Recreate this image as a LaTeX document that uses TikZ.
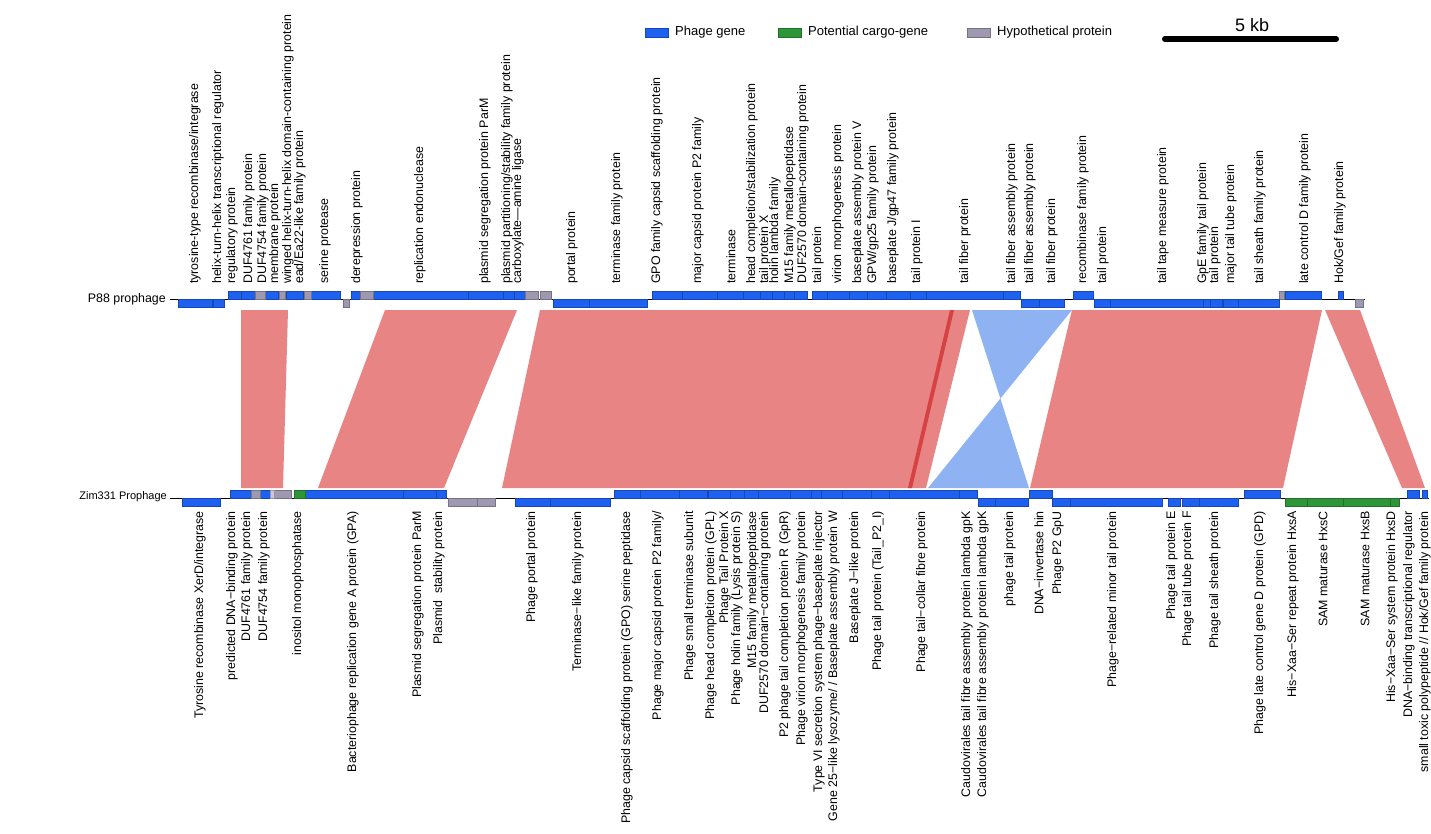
\documentclass[tikz,border=0pt]{standalone}
\usepackage{fontspec}
\setmainfont{Liberation Sans}
\definecolor{phageblue}{RGB}{30,96,240}
\definecolor{cargogreen}{RGB}{46,150,56}
\definecolor{hypogrey}{RGB}{158,152,176}
\definecolor{lavgrey}{RGB}{204,200,218}
\definecolor{ribbonred}{RGB}{232,132,132}
\definecolor{ribbonblue}{RGB}{142,178,242}
\definecolor{stripered}{RGB}{214,66,66}
\newcommand{\genefont}{\fontsize{12.4}{13}\selectfont}
\newcommand{\legendfont}{\fontsize{13}{14}\selectfont}
\begin{document}
\begin{tikzpicture}[x=1pt,y=-1pt,
  toplabel/.style={rotate=90,anchor=west,inner sep=0pt,font=\genefont},
  botlabel/.style={rotate=90,anchor=east,inner sep=0pt,font=\genefont},
  genebox/.style={fill=#1,draw=#1!75!black,line width=0.4pt}]
  \useasboundingbox[fill=white] (0,0) rectangle (1431,834);

  % legend and scale
  \draw[genebox=phageblue] (645,28) rectangle (668,37);
  \node[anchor=west,inner sep=0pt,font=\legendfont] (lgphage) at (675,32.5) {Phage gene};
  \draw[genebox=cargogreen] (778,28) rectangle (801,37);
  \node[anchor=west,inner sep=0pt,font=\legendfont] (lgcargo) at (808,32.5) {Potential cargo-gene};
  \draw[genebox=hypogrey] (967,28) rectangle (990,37);
  \node[anchor=west,inner sep=0pt,font=\legendfont] (lghypo) at (997,32.5) {Hypothetical protein};
  \draw[line width=6pt,line cap=round] (1165,39) -- (1336,39);
  \node[font=\fontsize{18}{20}\selectfont,inner sep=0pt] (scale) at (1252,25) {5 kb};

  % synteny ribbons
  \fill[ribbonred] (241,310) -- (288,310) -- (283,488) -- (241,488) -- cycle;
  \fill[ribbonred] (385,310) -- (517,310) -- (444,488) -- (318,488) -- cycle;
  \fill[ribbonred] (540,310) -- (970,310) -- (926,488) -- (502,488) -- cycle;
  \fill[stripered] (950,310) -- (954,310) -- (912,488) -- (908,488) -- cycle;
  \fill[ribbonblue] (972,310) -- (1072,310) -- (928,488) -- (1029,488) -- cycle;
  \fill[ribbonred] (1072,310) -- (1322,310) -- (1283,488) -- (1030,488) -- cycle;
  \fill[ribbonred] (1325,310) -- (1360,310) -- (1425,488) -- (1402,488) -- cycle;

  % P88 prophage
  \node[anchor=east,inner sep=0pt,font=\fontsize{12.4}{13}\selectfont] (p88) at (166,299) {P88 prophage};
  \coordinate (p88w) at (170,299);
  \coordinate (p88e) at (1365,299);
  \draw[line width=1pt] (p88w) -- (p88e);
  \foreach \a/\b in {228/241,241/255,265/278,286/303,311/340,351/360,373/468,468/503,503/514,514/525,
    652/682,682/717,717/743,743/760,760/772,772/784,784/794,794/807,812/827,827/849,849/867,867/886,
    886/910,910/926,926/1003,1003/1020,1073/1093,1285/1321,1338/1343}
    \draw[genebox=phageblue] (\a,291) rectangle (\b,299);
  \foreach \a/\b in {255/265,279/285,304/311,360/373,525/538,540/551,1279/1284}
    \draw[genebox=hypogrey] (\a,291) rectangle (\b,299);
  \foreach \a/\b in {178/212,213/224,553/589,589/647,1021/1039,1039/1064,1094/1110,1110/1203,
    1203/1210,1210/1222,1223/1238,1238/1279}
    \draw[genebox=phageblue] (\a,299) rectangle (\b,307);
  \foreach \a/\b in {343/349,1355/1363}
    \draw[genebox=hypogrey] (\a,299) rectangle (\b,307);

  % Zim331 prophage
  \node[anchor=east,inner sep=0pt,font=\fontsize{11}{12}\selectfont] (zim) at (167,497) {Zim331 Prophage};
  \coordinate (zimw) at (170,498);
  \coordinate (zime) at (1429,498);
  \draw[line width=1pt] (zimw) -- (zime);
  \foreach \a/\b in {230/251,260/270,305/403,403/436,436/446,614/640,640/679,679/707,708/730,730/744,
    744/758,758/790,790/811,811/821,821/842,842/871,871/889,889/959,959/977,1029/1052,1244/1280,
    1407/1419,1422/1427}
    \draw[genebox=phageblue] (\a,490) rectangle (\b,498);
  \foreach \a/\b in {251/260,274/291}
    \draw[genebox=hypogrey] (\a,490) rectangle (\b,498);
  \draw[genebox=lavgrey] (270,490) rectangle (274,498);
  \draw[genebox=cargogreen] (294,490) rectangle (305,498);
  \foreach \a/\b in {182/220,515/550,550/610,978/995,995/1028,1052/1070,1070/1162,1168/1180,
    1182/1199,1199/1238}
    \draw[genebox=phageblue] (\a,498) rectangle (\b,506);
  \foreach \a/\b in {448/477,477/495}
    \draw[genebox=hypogrey] (\a,498) rectangle (\b,506);
  \foreach \a/\b in {1285/1307,1307/1343,1343/1390,1390/1399}
    \draw[genebox=cargogreen] (\a,498) rectangle (\b,506);

  % P88 gene names
  \node[toplabel] (t01) at (195,284) {tyrosine-type recombinase/integrase};
  \node[toplabel] (t02) at (218,284) {helix-turn-helix transcriptional regulator};
  \node[toplabel] (t03) at (232,284) {regulatory protein};
  \node[toplabel] (t04) at (249,284) {DUF4761 family protein};
  \node[toplabel] (t05) at (263,284) {DUF4754 family protein};
  \node[toplabel] (t06) at (275,284) {membrane protein};
  \node[toplabel] (t07) at (288,284) {winged helix-turn-helix domain-containing protein};
  \node[toplabel] (t08) at (300,284) {ead/Ea22-like family protein};
  \node[toplabel] (t09) at (325,284) {serine protease};
  \node[toplabel] (t10) at (357,284) {derepression protein};
  \node[toplabel] (t11) at (420,284) {replication endonuclease};
  \node[toplabel] (t12) at (485,284) {plasmid segregation protein ParM};
  \node[toplabel] (t13) at (507,284) {plasmid partitioning/stability family protein};
  \node[toplabel] (t14) at (518,284) {carboxylate—amine ligase};
  \node[toplabel] (t15) at (572,284) {portal protein};
  \node[toplabel] (t16) at (617,284) {terminase family protein};
  \node[toplabel] (t17) at (657,284) {GPO family capsid scaffolding protein};
  \node[toplabel] (t18) at (698,284) {major capsid protein P2 family};
  \node[toplabel] (t19) at (731,284) {terminase};
  \node[toplabel] (t20) at (752,284) {head completion/stabilization protein};
  \node[toplabel] (t21) at (765,284) {tail protein X};
  \node[toplabel] (t22) at (775,284) {holin lambda family};
  \node[toplabel] (t23) at (790,284) {M15 family metallopeptidase};
  \node[toplabel] (t24) at (803,284) {DUF2570 domain-containing protein};
  \node[toplabel] (t25) at (818,284) {tail protein};
  \node[toplabel] (t26) at (838,284) {virion morphogenesis protein};
  \node[toplabel] (t27) at (858,284) {baseplate assembly protein V};
  \node[toplabel] (t28) at (873,284) {GPW/gp25 family protein};
  \node[toplabel] (t29) at (893,284) {baseplate J/gp47 family protein};
  \node[toplabel] (t30) at (917,284) {tail protein I};
  \node[toplabel] (t31) at (965,284) {tail fiber protein};
  \node[toplabel] (t32) at (1012,284) {tail fiber assembly protein};
  \node[toplabel] (t33) at (1030,284) {tail fiber assembly protein};
  \node[toplabel] (t34) at (1052,284) {tail fiber protein};
  \node[toplabel] (t35) at (1083,284) {recombinase family protein};
  \node[toplabel] (t36) at (1103,284) {tail protein};
  \node[toplabel] (t37) at (1163,284) {tail tape measure protein};
  \node[toplabel] (t38) at (1203,284) {GpE family tail protein};
  \node[toplabel] (t39) at (1215,284) {tail protein};
  \node[toplabel] (t40) at (1231,284) {major tail tube protein};
  \node[toplabel] (t41) at (1260,284) {tail sheath family protein};
  \node[toplabel] (t42) at (1305,284) {late control D family protein};
  \node[toplabel] (t43) at (1340,284) {Hok/Gef family protein};

  % Zim331 gene names
  \node[botlabel] (b01) at (200,511) {Tyrosine recombinase XerD/integrase};
  \node[botlabel] (b02) at (232,511) {predicted DNA−binding protein};
  \node[botlabel] (b03) at (247,511) {DUF4761 family protein};
  \node[botlabel] (b04) at (264,511) {DUF4754 family protein};
  \node[botlabel] (b05) at (298,511) {inositol monophosphatase};
  \node[botlabel] (b06) at (353,511) {Bacteriophage replication gene A protein (GPA)};
  \node[botlabel] (b07) at (418,511) {Plasmid segregation protein ParM};
  \node[botlabel] (b08) at (439,511) {Plasmid\ \ stability protein};
  \node[botlabel] (b09) at (532,511) {Phage portal protein};
  \node[botlabel] (b10) at (578,511) {Terminase−like family protein};
  \node[botlabel] (b11) at (627,511) {Phage capsid scaffolding protein (GPO) serine peptidase};
  \node[botlabel] (b12) at (658,511) {Phage major capsid protein P2 family/};
  \node[botlabel] (b13) at (690,511) {Phage small terminase subunit};
  \node[botlabel] (b14) at (711,511) {Phage head completion protein (GPL)};
  \node[botlabel] (b15) at (725,511) {Phage Tail Protein X};
  \node[botlabel] (b16) at (737,511) {Phage holin family (Lysis protein S)};
  \node[botlabel] (b17) at (753,511) {M15 family metallopeptidase};
  \node[botlabel] (b18) at (765,511) {DUF2570 domain−containing protein};
  \node[botlabel] (b19) at (785,511) {P2 phage tail completion protein R (GpR)};
  \node[botlabel] (b20) at (802,511) {Phage virion morphogenesis family protein};
  \node[botlabel] (b21) at (819,511) {Type VI secretion system phage−baseplate injector};
  \node[botlabel] (b22) at (834,511) {Gene 25−like lysozyme/ / Baseplate assembly protein W};
  \node[botlabel] (b23) at (855,511) {Baseplate J−like protein};
  \node[botlabel] (b24) at (878,511) {Phage tail protein (Tail\_P2\_I)};
  \node[botlabel] (b25) at (922,511) {Phage tail−collar fibre protein};
  \node[botlabel] (b26) at (967,511) {Caudovirales tail fibre assembly protein lambda gpK};
  \node[botlabel] (b27) at (983,511) {Caudovirales tail fibre assembly protein lambda gpK};
  \node[botlabel] (b28) at (1010,511) {phage tail protein};
  \node[botlabel] (b29) at (1039,511) {DNA−invertase hin};
  \node[botlabel] (b30) at (1058,511) {Phage P2 GpU};
  \node[botlabel] (b31) at (1113,511) {Phage−related minor tail protein};
  \node[botlabel] (b32) at (1172,511) {Phage tail protein E};
  \node[botlabel] (b33) at (1188,511) {Phage tail tube protein F};
  \node[botlabel] (b34) at (1215,511) {Phage tail sheath protein};
  \node[botlabel] (b35) at (1260,511) {Phage late control gene D protein (GPD)};
  \node[botlabel] (b36) at (1293,511) {His−Xaa−Ser repeat protein HxsA};
  \node[botlabel] (b37) at (1323,511) {SAM maturase HxsC};
  \node[botlabel] (b38) at (1365,511) {SAM maturase HxsB};
  \node[botlabel] (b39) at (1392,511) {His−Xaa−Ser system protein HxsD};
  \node[botlabel] (b40) at (1409,511) {DNA−binding transcriptional regulator};
  \node[botlabel] (b41) at (1425,511) {small toxic polypeptide // Hok/Gef family protein};
\end{tikzpicture}
\end{document}
